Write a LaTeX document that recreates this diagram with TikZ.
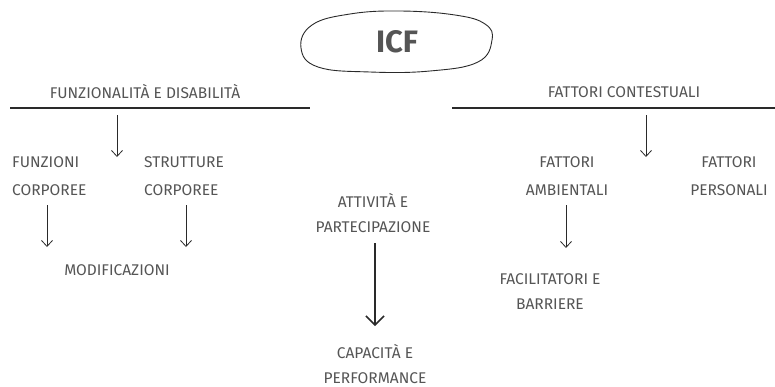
\documentclass[tikz,border=0pt]{standalone}
\usepackage{fontspec}
\setmainfont{Fira Sans}
\usetikzlibrary{arrows.meta}
\definecolor{ink}{HTML}{555555}
\definecolor{pen}{HTML}{2A2A2A}
\tikzset{
  lbl/.style={text=ink, font=\fontsize{15.5}{25}\selectfont, align=center, inner sep=0pt},
  lblw/.style={lbl, font=\fontsize{15.5}{28}\selectfont},
  lbll/.style={lblw, align=left, anchor=west},
  arr/.style={draw=pen, line width=0.8pt, -{Straight Barb[length=6pt,width=11pt,line width=0.8pt]}},
  bigarr/.style={draw=pen, line width=1.5pt, -{Straight Barb[length=9pt,width=18pt,line width=1.5pt]}},
  rule/.style={draw=pen, line width=1.2pt},
}
\begin{document}
\begin{tikzpicture}[x=1pt,y=-1pt]
\useasboundingbox (0,0) rectangle (775,386);

% title blob
\node[text=ink, font=\fontsize{31}{34}\selectfont\bfseries, inner sep=0pt] (icf) at (397,42) {ICF};
\draw[pen, line width=0.9pt] plot[smooth cycle, tension=0.7] coordinates
  {(301,48) (312,25) (350,14) (400,11) (455,15) (485,24) (492,40) (478,62) (430,71) (370,72) (318,67)};

% left branch
\node[lbl] (fd) at (145,92) {FUNZIONALITÀ E DISABILITÀ};
\coordinate (la) at (10,108);
\coordinate (lb) at (310,108);
\draw[rule] (la) -- (lb);
\coordinate (fdA) at (117,115);
\coordinate (fdB) at (117,157);
\draw[arr] (fdA) -- (fdB);

\node[lbll] (fc) at (12,176) {FUNZIONI\\CORPOREE};
\node[lbll] (sc) at (144,176) {STRUTTURE\\CORPOREE};
\coordinate (fcA) at (47,205);
\coordinate (fcB) at (47,247);
\coordinate (scA) at (186,205);
\coordinate (scB) at (186,247);
\draw[arr] (fcA) -- (fcB);
\draw[arr] (scA) -- (scB);
\node[lbl] (mod) at (117,270) {MODIFICAZIONI};

% centre branch
\node[lbl] (ap) at (373,213) {ATTIVITÀ E\\PARTECIPAZIONE};
\node[lbl] (cp) at (375,364) {CAPACITÀ E\\PERFORMANCE};
\coordinate (apA) at (375,243);
\coordinate (apB) at (375,326);
\draw[bigarr] (apA) -- (apB);

% right branch
\node[lbl] (fcx) at (624,92) {FATTORI CONTESTUALI};
\coordinate (ra) at (452,108);
\coordinate (rb) at (775,108);
\draw[rule] (ra) -- (rb);
\coordinate (fcxA) at (646,115);
\coordinate (fcxB) at (646,157);
\draw[arr] (fcxA) -- (fcxB);

\node[lblw] (fa) at (567,176) {FATTORI\\AMBIENTALI};
\node[lblw] (fp) at (729,176) {FATTORI\\PERSONALI};
\coordinate (faA) at (566,205);
\coordinate (faB) at (566,248);
\draw[arr] (faA) -- (faB);
\node[lbl] (fb) at (550,292) {FACILITATORI E\\BARRIERE};
\end{tikzpicture}
\end{document}
